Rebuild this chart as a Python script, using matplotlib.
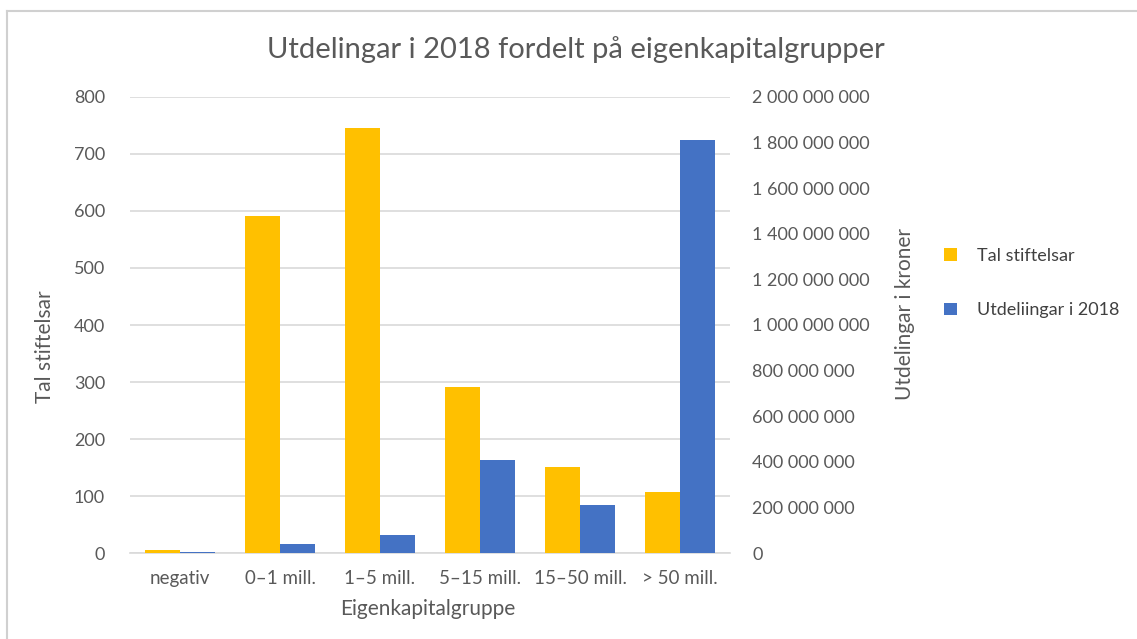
import matplotlib
matplotlib.use("Agg")
import matplotlib.pyplot as plt
from matplotlib.lines import Line2D
from matplotlib.ticker import FuncFormatter
import numpy as np

categories = ["negativ", "0–1 mill.", "1–5 mill.", "5–15 mill.", "15–50 mill.", "> 50 mill."]
tal_stiftelsar = [6, 591, 746, 291, 152, 107]
utdelingar = [7e6, 41e6, 80e6, 409e6, 210e6, 1810e6]
left_ticks = [0, 100, 200, 300, 400, 500, 600, 700, 800]
right_ticks = [0, 2e8, 4e8, 6e8, 8e8, 1e9, 1.2e9, 1.4e9, 1.6e9, 1.8e9, 2e9]

YELLOW = "#FFC000"
BLUE = "#4472C4"
TXT = "#595959"
GRID = "#D9D9D9"

plt.rcParams['font.family'] = ['Lato', 'DejaVu Sans']

W, H = 1137, 639
fig = plt.figure(figsize=(W / 100, H / 100), dpi=100)
fig.patch.set_facecolor("white")

ax_l, ax_r, ax_t, ax_b = 130, 730, 96.7, 553.3
ax = fig.add_axes([ax_l / W, 1 - ax_b / H, (ax_r - ax_l) / W, (ax_b - ax_t) / H])
ax2 = ax.twinx()

x = np.arange(len(categories))
bw = 0.35
ax.bar(x - bw / 2, tal_stiftelsar, width=bw, color=YELLOW, label="Tal stiftelsar", zorder=3)
ax2.bar(x + bw / 2, utdelingar, width=bw, color=BLUE, label="Utdeliingar i 2018", zorder=3)

ax.set_xlim(-0.5, len(categories) - 0.5)
ax.set_ylim(0, 800)
ax2.set_ylim(0, 2e9)
ax.set_yticks(left_ticks)
ax2.set_yticks(right_ticks)
ax2.yaxis.set_major_formatter(FuncFormatter(lambda v, p: f"{int(v):,}".replace(",", " ")))

ax.yaxis.grid(True, color=GRID, linewidth=1.2, zorder=0)
ax.set_axisbelow(True)
for a in (ax, ax2):
    for s in a.spines.values():
        s.set_visible(False)
    a.tick_params(length=0, labelsize=13, labelcolor=TXT)
ax.spines['bottom'].set_visible(True)
ax.spines['bottom'].set_color(GRID)
ax.spines['bottom'].set_linewidth(1.2)

ax.set_xticks(x)
ax.set_xticklabels(categories)
ax.tick_params(axis='x', pad=12, labelsize=13.5)
ax.tick_params(axis='y', pad=18)
ax2.tick_params(axis='y', pad=16)

fig.text(428 / W, 1 - 609 / H, "Eigenkapitalgruppe", ha="center", va="center",
         fontsize=15, color=TXT)
fig.text(45 / W, 1 - 347 / H, "Tal stiftelsar", ha="center", va="center",
         rotation=90, fontsize=15, color=TXT)
fig.text(905 / W, 1 - 314 / H, "Utdelingar i kroner", ha="center", va="center",
         rotation=90, fontsize=15, color=TXT)

fig.text(576 / W, 1 - 50 / H, "Utdelingar i 2018 fordelt på eigenkapitalgrupper",
         ha="center", va="center", fontsize=21, color=TXT)

h1, l1 = ax.get_legend_handles_labels()
h2, l2 = ax2.get_legend_handles_labels()
leg = fig.legend(h1 + h2, l1 + l2, loc="center left", bbox_to_anchor=(928 / W, 1 - 283 / H),
                 frameon=False, fontsize=13, labelcolor="#404040",
                 handlelength=0.7, handleheight=0.7, labelspacing=2.15, handletextpad=1.1)

fig.add_artist(Line2D([7 / W, 7 / W], [0, 1 - 11 / H], transform=fig.transFigure, color="#D0D0D0", lw=1.5))
fig.add_artist(Line2D([7 / W, 1], [1 - 11 / H, 1 - 11 / H], transform=fig.transFigure, color="#D0D0D0", lw=1.5))

fig.savefig("out.png", dpi=100)
